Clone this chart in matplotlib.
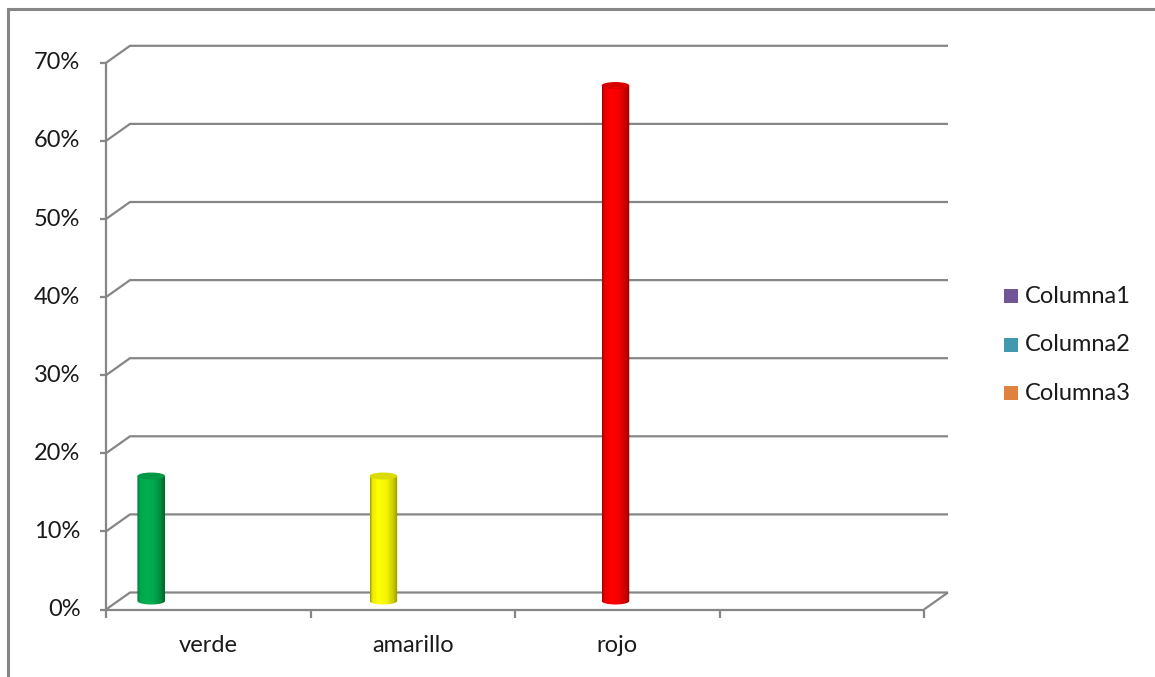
import numpy as np
import matplotlib
matplotlib.use('Agg')
import matplotlib.pyplot as plt
from matplotlib.patches import Polygon, Ellipse, Rectangle
from matplotlib.lines import Line2D
from matplotlib.colors import to_rgb

plt.rcParams['font.family'] = ['Lato', 'DejaVu Sans']

# data
categories = ['verde', 'amarillo', 'rojo', '']
values = [0.16, 0.16, 0.66]
bar_colors = ['#00b050', '#ffff00', '#ff0000']
bar_slots = [0, 1, 2]          # series slot inside each category cluster
y_ticks = [0.0, 0.1, 0.2, 0.3, 0.4, 0.5, 0.6, 0.7]
legend_labels = ['Columna1', 'Columna2', 'Columna3']
legend_colors = ['#735596', '#4198af', '#de823e']

W, H = 1155, 677
fig = plt.figure(figsize=(W / 100, H / 100), dpi=100)
ax = fig.add_axes([0, 0, 1, 1])
ax.axis('off')

# map axes so the front plane sits where the chart wants it
x0_px, cat_px = 106.0, 204.5
y0_px, unit_px = 609.5, 781.0
ax.set_xlim(-x0_px / cat_px, (W - x0_px) / cat_px)
ax.set_ylim((y0_px - H) / unit_px, y0_px / unit_px)

DX = 24 / cat_px      # depth shift of the back wall
DY = 17 / unit_px
n_cat = len(categories)
grid_kw = dict(color='#868686', lw=1.6, solid_capstyle='butt', zorder=1)

# back wall gridlines + side diagonals
for t in y_ticks:
    ax.plot([0, DX, n_cat + DX], [t, t + DY, t + DY], **grid_kw)
    ax.plot([-0.03, 0], [t, t], **grid_kw)
    ax.text(-0.125, t, f'{t * 100:.0f}%', ha='right', va='center',
            fontsize=17, color='#1a1a1a')

# floor right edge and front axes
ax.plot([n_cat, n_cat + DX], [0, DY], **grid_kw)
ax.plot([0, 0], [0, y_ticks[-1]], **grid_kw)
ax.plot([0, n_cat], [0, 0], **grid_kw)
for i in range(n_cat + 1):
    ax.plot([i, i], [0, -0.011], **grid_kw)
for i, c in enumerate(categories):
    ax.text(i + 0.5, -0.046, c, ha='center', va='center', fontsize=17,
            color='#1a1a1a')

# cylinders
n_slots, gap = 6, 0.095
slot_w = (1 - 2 * gap) / n_slots
eh = 7 / unit_px
shade_t = [0.0, 0.08, 0.3, 0.6, 0.85, 1.0]
shade_f = [0.62, 0.92, 1.0, 0.96, 0.78, 0.58]
for i, (v, col, s) in enumerate(zip(values, bar_colors, bar_slots)):
    xc = i + gap + slot_w * (s + 0.5) + DX / 2
    base = DY / 2
    x1, x2 = xc - slot_w / 2, xc + slot_w / 2
    th = np.linspace(np.pi, 2 * np.pi, 40)
    arc = np.column_stack([xc + slot_w / 2 * np.cos(th), base + eh / 2 * np.sin(th)])
    pts = np.vstack([[x1, base + v], arc, [x2, base + v]])
    body = Polygon(pts, closed=True, transform=ax.transData, facecolor='none',
                   edgecolor='none')
    ax.add_patch(body)
    tt = np.linspace(0, 1, 64)
    f = np.interp(tt, shade_t, shade_f)
    rgb = np.clip(np.array(to_rgb(col))[None, :] * f[:, None], 0, 1)
    im = ax.imshow(rgb[None, :, :], extent=[x1, x2, base - eh, base + v],
                   aspect='auto', interpolation='bilinear', zorder=2)
    im.set_clip_path(body)
    top_col = np.array(to_rgb(col)) * 0.86
    ax.add_patch(Ellipse((xc, base + v), slot_w, eh, facecolor=top_col,
                         edgecolor='none', zorder=3))

# legend
for k, (lab, c) in enumerate(zip(legend_labels, legend_colors)):
    yc = (y0_px - (296 + 48.5 * k)) / unit_px
    xs = (1004 - x0_px) / cat_px
    ax.add_patch(Rectangle((xs, yc - 7 / unit_px), 14 / cat_px, 14 / unit_px,
                           facecolor=c, edgecolor='none'))
    ax.text((1025 - x0_px) / cat_px, yc, lab, ha='left', va='center',
            fontsize=17, color='#1a1a1a')

ax.set_xlim(-x0_px / cat_px, (W - x0_px) / cat_px)
ax.set_ylim((y0_px - H) / unit_px, y0_px / unit_px)

# outer frame (top and left edges)
fig.add_artist(Line2D([8 / W, 1], [1 - 9 / H, 1 - 9 / H], color='#868686', lw=2.2))
fig.add_artist(Line2D([8 / W, 8 / W], [0, 1 - 9 / H], color='#868686', lw=2.2))

fig.savefig('out.png', dpi=100)
